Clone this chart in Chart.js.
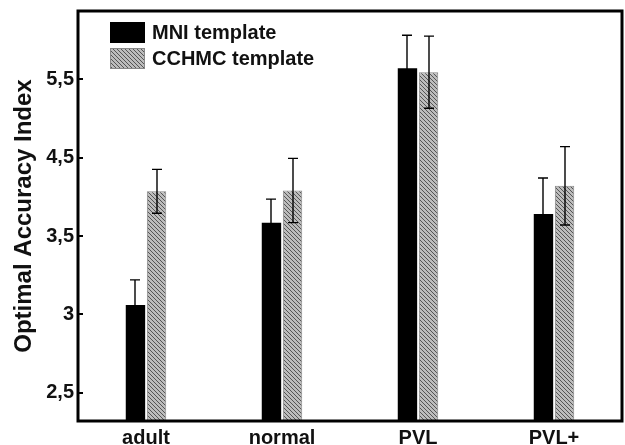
<!DOCTYPE html>
<html>
<head>
<meta charset="utf-8">
<script src="https://cdn.jsdelivr.net/npm/chart.js@4.4.1/dist/chart.umd.min.js"></script>
<style>
  html, body { margin: 0; padding: 0; background: #fff; }
  #wrap { width: 625px; height: 445px; }
</style>
</head>
<body>
<div id="wrap"><canvas id="chart"></canvas></div>
<script>
const groups = ['adult', 'normal', 'PVL', 'PVL+'];
const mniValues = [3.06, 3.67, 5.64, 3.78];
const mniErrors = [0.16, 0.30, 0.42, 0.46];
const cchmcValues = [4.07, 4.08, 5.59, 4.14];
const cchmcErrors = [0.28, 0.41, 0.46, 0.50];
const yTicks = [2.5, 3, 3.5, 4.5, 5.5];

const errors = [mniErrors, cchmcErrors];

// the printed axis puts its labelled ticks at even steps, so map values step-wise
class StepScale extends Chart.LinearScale {
  static id = 'step';
  static defaults = Chart.LinearScale.defaults;
  toStep(v) {
    let i = 0;
    while (i < yTicks.length - 2 && v > yTicks[i + 1]) i++;
    return i + (v - yTicks[i]) / (yTicks[i + 1] - yTicks[i]);
  }
  fromStep(s) {
    const i = Math.max(0, Math.min(yTicks.length - 2, Math.floor(s)));
    return yTicks[i] + (s - i) * (yTicks[i + 1] - yTicks[i]);
  }
  getPixelForValue(v) {
    if (v === null || v === undefined || isNaN(v)) return NaN;
    const lo = this.toStep(this.min), hi = this.toStep(this.max);
    return this.getPixelForDecimal((this.toStep(v) - lo) / (hi - lo));
  }
  getValueForPixel(p) {
    const lo = this.toStep(this.min), hi = this.toStep(this.max);
    return this.fromStep(lo + this.getDecimalForPixel(p) * (hi - lo));
  }
}
Chart.register(StepScale);

const canvas = document.getElementById('chart');
const ctx = canvas.getContext('2d');

function hatch() {
  const c = document.createElement('canvas');
  c.width = 4; c.height = 4;
  const g = c.getContext('2d');
  g.fillStyle = '#bcbcbc';
  g.fillRect(0, 0, 4, 4);
  g.fillStyle = '#555';
  for (let i = 0; i < 4; i++) g.fillRect(i, i, 1, 1);
  return ctx.createPattern(c, 'repeat');
}
const hatchFill = hatch();

const errorBars = {
  id: 'errorBars',
  afterDatasetsDraw(chart) {
    const c = chart.ctx, y = chart.scales.y;
    c.save();
    c.strokeStyle = '#000';
    c.lineWidth = 1.4;
    chart.data.datasets.forEach((ds, di) => {
      chart.getDatasetMeta(di).data.forEach((bar, i) => {
        const v = ds.data[i], e = errors[di][i];
        const top = y.getPixelForValue(v + e), bot = y.getPixelForValue(v - e);
        const x = Math.round(bar.x);
        c.beginPath();
        c.moveTo(x, top); c.lineTo(x, bot);
        c.moveTo(x - 5, top); c.lineTo(x + 5, top);
        c.moveTo(x - 5, bot); c.lineTo(x + 5, bot);
        c.stroke();
      });
    });
    c.restore();
  }
};

const frame = {
  id: 'frame',
  afterDraw(chart) {
    const c = chart.ctx, a = chart.chartArea, y = chart.scales.y;
    c.save();
    c.strokeStyle = '#000';
    c.lineWidth = 3;
    c.strokeRect(a.left, a.top, a.right - a.left, a.bottom - a.top);
    c.lineWidth = 2;
    y.ticks.forEach((t, i) => {
      const py = Math.round(y.getPixelForTick(i));
      c.beginPath();
      c.moveTo(a.left, py); c.lineTo(a.left + 5, py);
      c.stroke();
    });

    // legend inside the plot, stacked
    c.font = 'bold 20px "Liberation Sans", Arial, sans-serif';
    c.textBaseline = 'middle';
    chart.data.datasets.forEach((ds, i) => {
      const sx = a.left + 32, sy = 22 + i * 26;
      c.fillStyle = ds.backgroundColor;
      c.fillRect(sx, sy, 35, 21);
      c.lineWidth = 1;
      c.strokeStyle = i === 0 ? '#000' : '#888';
      c.strokeRect(sx + 0.5, sy + 0.5, 34, 20);
      c.fillStyle = '#111';
      c.fillText(ds.label, sx + 42, sy + 11);
    });
    c.restore();
  }
};

Chart.defaults.font.family = '"Liberation Sans", Arial, sans-serif';
Chart.defaults.color = '#111';

new Chart(ctx, {
  type: 'bar',
  data: {
    labels: groups,
    datasets: [
      {
        label: 'MNI template',
        data: mniValues,
        backgroundColor: '#000',
        borderWidth: 0,
        barPercentage: 0.92,
        categoryPercentage: 0.31
      },
      {
        label: 'CCHMC template',
        data: cchmcValues,
        backgroundColor: hatchFill,
        borderColor: '#888',
        borderWidth: 1,
        barPercentage: 0.92,
        categoryPercentage: 0.31
      }
    ]
  },
  options: {
    responsive: true,
    maintainAspectRatio: false,
    animation: false,
    layout: { padding: { top: 11, right: 3, left: 0, bottom: 0 } },
    plugins: {
      legend: { display: false },
      tooltip: { enabled: true }
    },
    scales: {
      x: {
        grid: { display: false, drawTicks: false },
        border: { display: false },
        ticks: { padding: 5, font: { size: 20, weight: 'bold' } },
        afterFit: (s) => { s.height = 24; s.paddingLeft = 0; s.paddingRight = 0; }
      },
      y: {
        type: 'step',
        min: 2.32,
        max: 6.37,
        grid: { display: false, drawTicks: false },
        border: { display: false },
        afterBuildTicks: (s) => { s.ticks = yTicks.map(v => ({ value: v })); },
        ticks: {
          padding: 4,
          font: { size: 20, weight: 'bold' },
          callback: (v) => String(v).replace('.', ',')
        },
        title: {
          display: true,
          text: 'Optimal Accuracy Index',
          font: { size: 24, weight: 'bold' },
          padding: { top: 10, bottom: 0 }
        },
        afterFit: (s) => { s.width = 78; s.paddingTop = 0; s.paddingBottom = 0; }
      }
    }
  },
  plugins: [errorBars, frame]
});
</script>
</body>
</html>
